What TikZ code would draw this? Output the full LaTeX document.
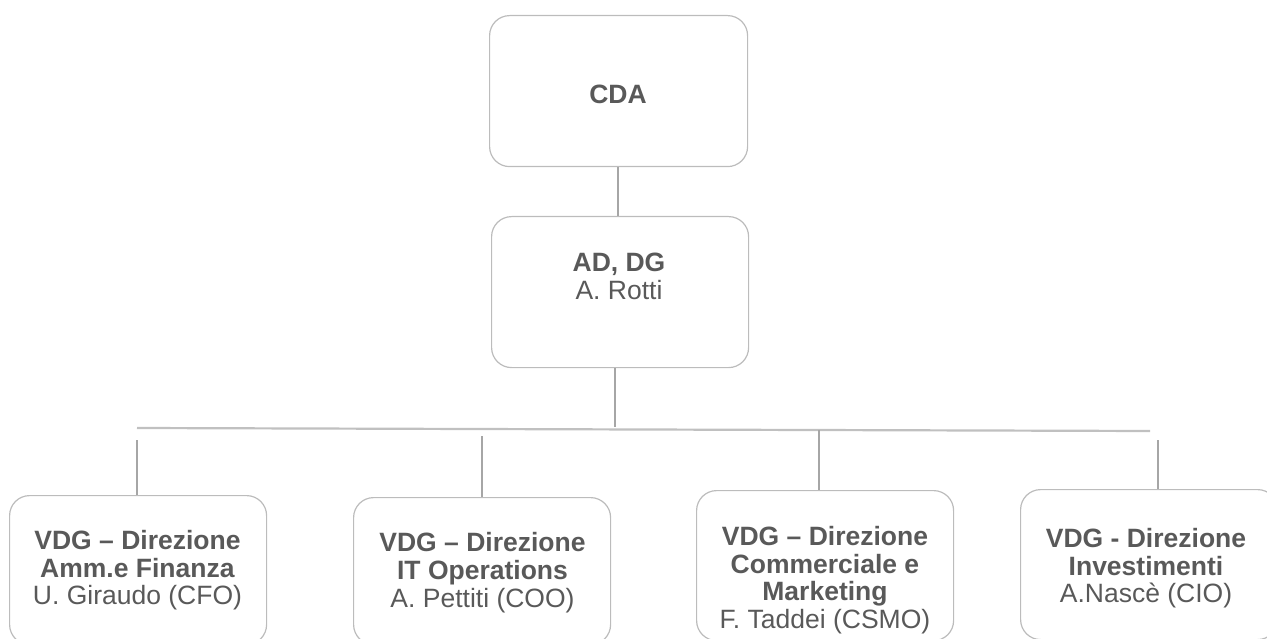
\documentclass[tikz,border=0pt]{standalone}
\usepackage{fontspec}
\setmainfont{Liberation Sans}
\definecolor{txtgray}{HTML}{595959}
\definecolor{boxgray}{HTML}{BCBCBC}
\definecolor{linegray}{HTML}{A6A6A6}
\definecolor{busgray}{HTML}{C0C0C0}
\tikzset{
  orgbox/.style={draw=boxgray, line width=1.2pt, rounded corners=20pt, rectangle,
    minimum width=257pt, inner sep=0pt, anchor=north west},
  orgtext/.style={text=txtgray, align=center, inner sep=0pt, anchor=north,
    font=\fontsize{26.5}{27.7}\selectfont},
  conn/.style={draw=linegray, line width=2pt},
  bus/.style={draw=busgray, line width=2.2pt}
}
\begin{document}
\begin{tikzpicture}[x=1pt,y=-1pt]
\useasboundingbox (0,0) rectangle (1267,639);
% boxes
\node[orgbox, minimum width=258pt, minimum height=151pt] (cda) at (489,15) {};
\node[orgbox, minimum height=151pt] (ad) at (491,216) {};
\node[orgbox, minimum height=149pt] (b1) at (9,495) {};
\node[orgbox, minimum height=147pt] (b2) at (353,497) {};
\node[orgbox, minimum height=150pt] (b3) at (696,490) {};
\node[orgbox, minimum height=150pt] (b4) at (1020,489) {};
% texts
\node[orgtext] (tcda) at (618,85) {\textbf{CDA}};
\node[orgtext] (tad) at (619,253) {\textbf{AD, DG}\\A. Rotti};
\node[orgtext] (t1) at (137.5,530) {\textbf{VDG – Direzione}\\\textbf{Amm.e Finanza}\\U. Giraudo (CFO)};
\node[orgtext] (t2) at (482.5,532.5) {\textbf{VDG – Direzione}\\\textbf{IT Operations}\\A. Pettiti (COO)};
\node[orgtext] (t3) at (825,526) {\textbf{VDG – Direzione}\\\textbf{Commerciale e}\\\textbf{Marketing}\\F. Taddei (CSMO)};
\node[orgtext] (t4) at (1146,528) {\textbf{VDG - Direzione}\\\textbf{Investimenti}\\A.Nascè (CIO)};
% connector coordinates
\coordinate (adb) at (615,427);
\coordinate (busL) at (137,428);
\coordinate (busR) at (1150,431);
\coordinate (d1) at (137,440);
\coordinate (d2) at (482,436);
\coordinate (d3) at (819,430);
\coordinate (d4) at (1158,440);
% connectors
\draw[conn] (cda.south -| tcda) -- (tcda |- ad.north);
\draw[conn] (adb |- ad.south) -- (adb);
\draw[bus] (busL) -- (busR);
\draw[conn] (d1) -- (d1 |- b1.north);
\draw[conn] (d2) -- (d2 |- b2.north);
\draw[conn] (d3) -- (d3 |- b3.north);
\draw[conn] (d4) -- (d4 |- b4.north);
\end{tikzpicture}
\end{document}
